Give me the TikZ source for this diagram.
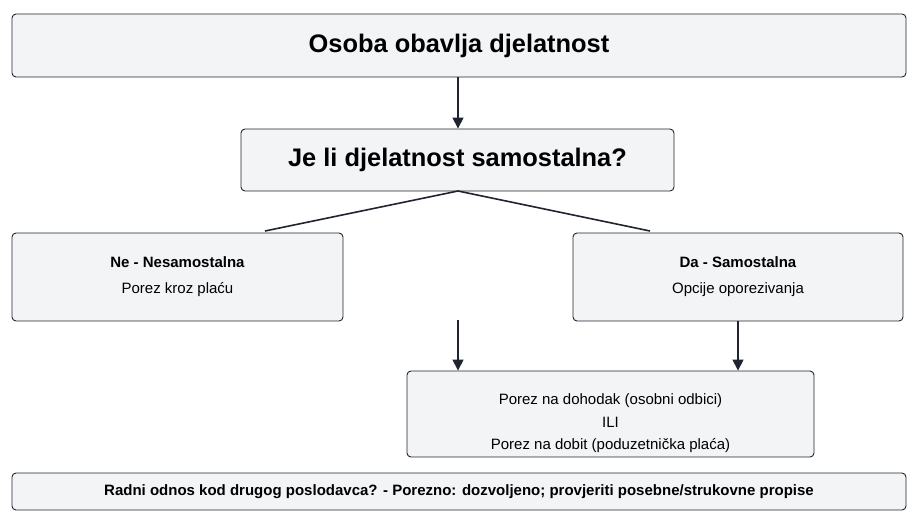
\documentclass[tikz,border=0pt]{standalone}
\usepackage{fontspec}
\setmainfont{Liberation Sans}
\usetikzlibrary{arrows.meta}
\definecolor{boxfill}{HTML}{F3F4F6}
\definecolor{edge}{HTML}{1F2430}
\tikzset{
  box/.style={draw=edge, fill=boxfill, rounded corners=4pt, line width=0.9pt, align=center, inner sep=0pt},
  conn/.style={draw=edge, line width=1.6pt},
  arr/.style={conn, -{Triangle[length=11pt,width=11pt]}}
}
\begin{document}
\begin{tikzpicture}[x=1pt,y=-1pt]
  \useasboundingbox (0,0) rectangle (920,519);
  \node[box, minimum width=894pt, minimum height=63pt, font=\bfseries\fontsize{25.4}{29}\selectfont] (start) at (459,45.5) {Osoba obavlja djelatnost};
  \node[box, minimum width=433pt, minimum height=62pt, font=\bfseries\fontsize{25.4}{29}\selectfont] (question) at (457.5,160) {Je li djelatnost samostalna?};
  \node[box, minimum width=331pt, minimum height=88pt, font=\fontsize{15}{26}\selectfont] (ne) at (177.5,277) {\textbf{Ne - Nesamostalna}\\Porez kroz plaću};
  \node[box, minimum width=330pt, minimum height=88pt, font=\fontsize{15}{26}\selectfont] (da) at (738,277) {\textbf{Da - Samostalna}\\Opcije oporezivanja};
  \node[box, minimum width=407pt, minimum height=86pt, font=\fontsize{15}{22.5}\selectfont] (porez) at (610.5,414) {\rule{0pt}{30pt}Porez na dohodak (osobni odbici)\\ILI\\Porez na dobit (poduzetnička plaća)};
  \node[box, minimum width=894pt, minimum height=37pt, font=\bfseries\fontsize{15}{17}\selectfont] (radni) at (459,491.5) {Radni odnos kod drugog poslodavca? - Porezno: dozvoljeno; provjeriti posebne/strukovne propise};
  \coordinate (split) at (458,191);
  \coordinate (loose) at (458,320);
  \draw[arr] (start.south -| split) -- (question.north -| split);
  \draw[conn] (split) -- (265,231);
  \draw[conn] (split) -- (650,231);
  \draw[arr] (loose) -- (loose |- porez.north);
  \draw[arr] (da.south) -- (da.south |- porez.north);
\end{tikzpicture}
\end{document}
